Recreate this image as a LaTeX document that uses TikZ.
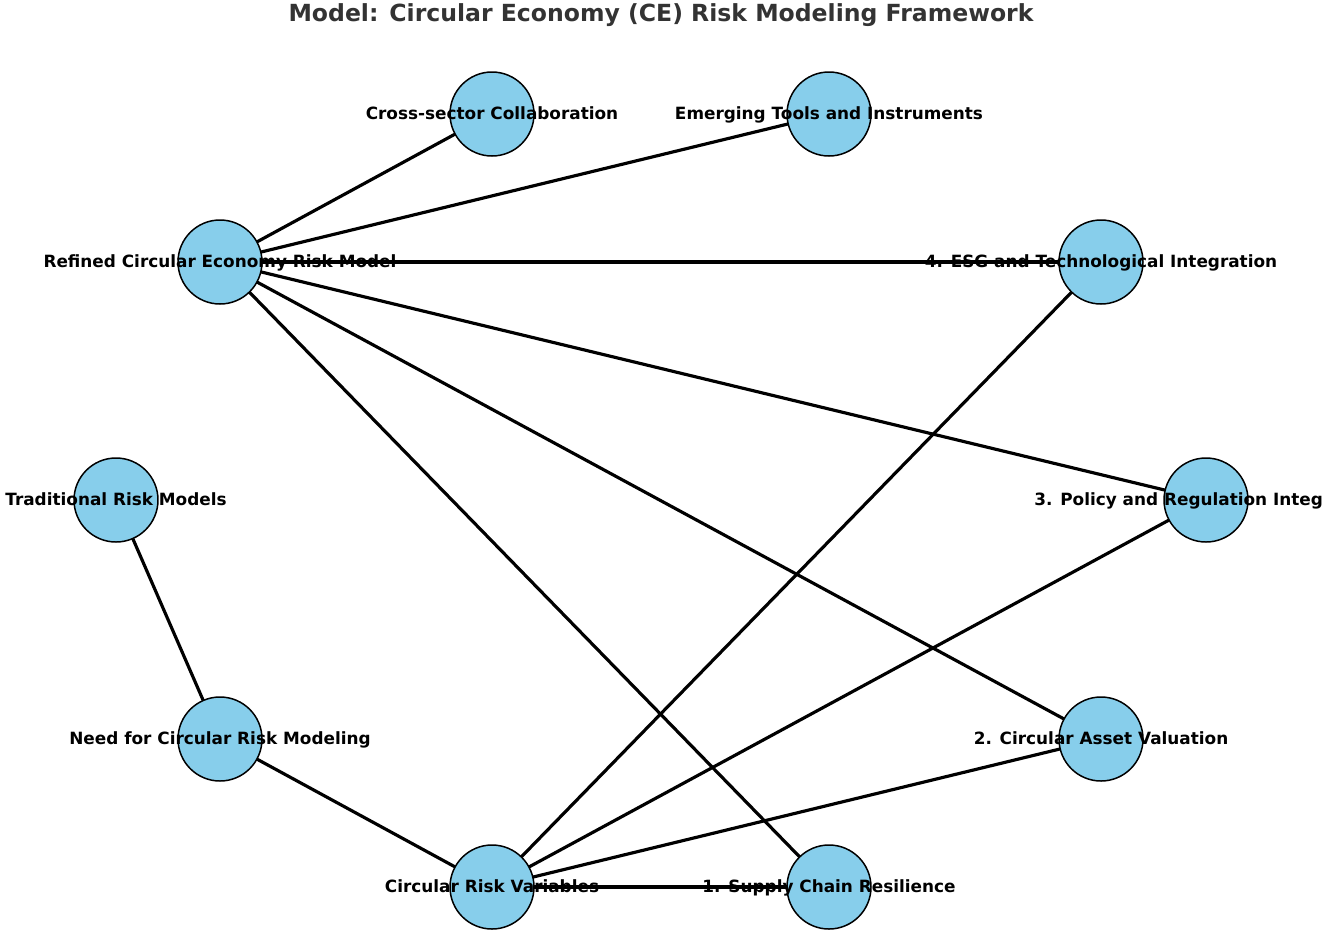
\documentclass[tikz,border=0pt]{standalone}
\usepackage{fontspec}
\setmainfont{DejaVu Sans}
\usetikzlibrary{backgrounds}
\definecolor{nodeblue}{HTML}{87CEEB}
\definecolor{titlegray}{HTML}{333333}
\tikzset{
  topic/.style={circle, draw=black, line width=0.85pt, fill=nodeblue, minimum size=84*0.2mm, inner sep=0pt},
  lbl/.style={font=\fontsize{9.6}{11}\selectfont\bfseries, text=black, inner sep=0pt, text height=8pt, text depth=2.2pt},
  link/.style={line width=1.8pt, black}
}
\begin{document}
\begin{tikzpicture}[x=0.2mm, y=-0.2mm]
    \useasboundingbox (0,0) rectangle (1325,936);
    \clip (0,0) rectangle (1325,936);

    % Titolo
    \node[font=\fontsize{13.4}{15}\selectfont\bfseries, text=titlegray] (title) at (661,15) {Model: Circular Economy (CE) Risk Modeling Framework};

    % Nodi
    \node[topic] (cross) at (492,114) {};
    \node[topic] (tools) at (829,114) {};
    \node[topic] (refined) at (220,262) {};
    \node[topic] (esg) at (1101,262) {};
    \node[topic] (trad) at (116,500) {};
    \node[topic] (policy) at (1206,500) {};
    \node[topic] (need) at (220,739) {};
    \node[topic] (asset) at (1101,739) {};
    \node[topic] (vars) at (492,887) {};
    \node[topic] (supply) at (829,887) {};

    % Collegamenti
    \begin{scope}[on background layer]
    \draw[link] (refined.center) -- (cross.center);
    \draw[link] (refined.center) -- (tools.center);
    \draw[link] (refined.center) -- (esg.center);
    \draw[link] (refined.center) -- (policy.center);
    \draw[link] (refined.center) -- (asset.center);
    \draw[link] (refined.center) -- (supply.center);
    \draw[link] (trad.center) -- (need.center);
    \draw[link] (need.center) -- (vars.center);
    \draw[link] (vars.center) -- (esg.center);
    \draw[link] (vars.center) -- (policy.center);
    \draw[link] (vars.center) -- (asset.center);
    \draw[link] (vars.center) -- (supply.center);
    \end{scope}

    % Etichette
    \node[lbl] (crosstxt) at (cross) {Cross-sector Collaboration};
    \node[lbl] (toolstxt) at (tools) {Emerging Tools and Instruments};
    \node[lbl] (refinedtxt) at (refined) {Refined Circular Economy Risk Model};
    \node[lbl] (esgtxt) at (esg) {4. ESG and Technological Integration};
    \node[lbl] (tradtxt) at (trad) {Traditional Risk Models};
    \node[lbl, anchor=west] (policytxt) at (1034,500) {3. Policy and Regulation Integ};
    \node[lbl] (needtxt) at (need) {Need for Circular Risk Modeling};
    \node[lbl] (assettxt) at (asset) {2. Circular Asset Valuation};
    \node[lbl] (varstxt) at (vars) {Circular Risk Variables};
    \node[lbl] (supplytxt) at (supply) {1. Supply Chain Resilience};
\end{tikzpicture}
\end{document}
